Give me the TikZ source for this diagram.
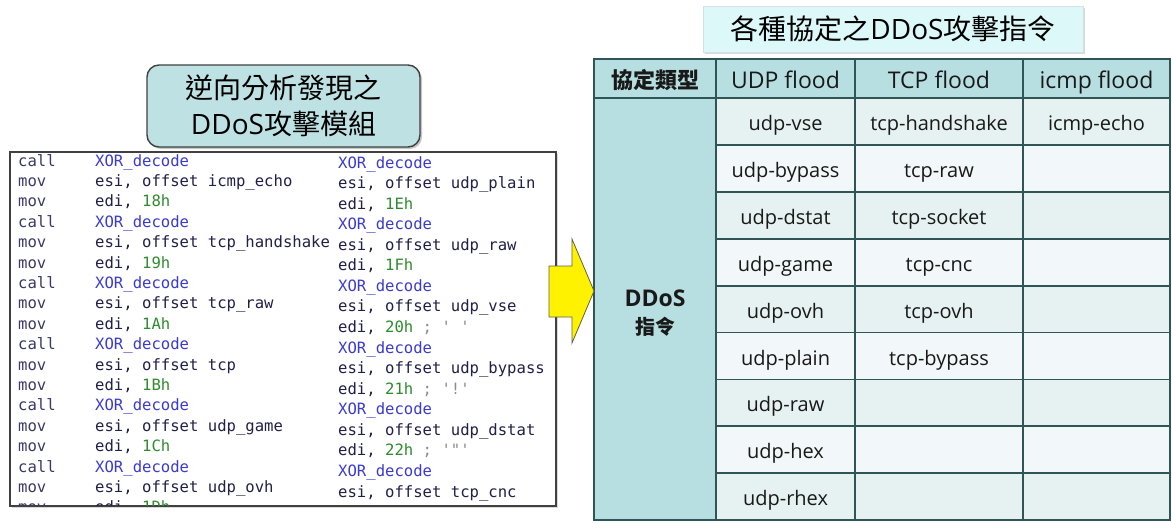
\documentclass[tikz,border=0pt]{standalone}
\usepackage{fontspec}
\setmainfont{Open Sans}
\setmonofont{DejaVu Sans Mono}
\newfontfamily\cjk{Noto Sans CJK TC}
\usetikzlibrary{shadows}
\definecolor{mnem}{HTML}{3A3A66}
\definecolor{fnc}{HTML}{3B3BD0}
\definecolor{opc}{HTML}{202048}
\definecolor{numc}{HTML}{2E8B2E}
\definecolor{cmtc}{HTML}{8C8C8C}
\definecolor{teal}{HTML}{B7DEE0}
\definecolor{rowa}{HTML}{E6F1F2}
\definecolor{rowb}{HTML}{F2F7F9}
\definecolor{gridc}{HTML}{2F5557}
\definecolor{ttlb}{HTML}{DDF8F9}
\newcommand\cl[2]{\makebox[77pt][l]{\textcolor{mnem}{#1}}#2}
\newcommand\fn[1]{\textcolor{fnc}{#1}}
\newcommand\op[1]{\textcolor{opc}{#1}}
\newcommand\nm[1]{\textcolor{numc}{#1}}
\newcommand\cm[1]{\textcolor{cmtc}{#1}}
\begin{document}
\begin{tikzpicture}[x=1pt,y=-1pt,
  code/.style={anchor=base west,inner sep=0pt,font=\ttfamily\fontsize{15.6}{16}\selectfont},
  codebox/.style={draw=black!75,line width=1.2pt,fill=white,minimum width=546pt,minimum height=354pt,inner sep=0pt,drop shadow={shadow xshift=1.5pt,shadow yshift=-1.5pt,opacity=0.3}},
  titleone/.style={draw=black!75,line width=1.4pt,rounded corners=12pt,fill=teal!90!white,minimum width=273pt,minimum height=82pt,align=center,inner sep=0pt,font=\cjk\fontsize{28}{36}\selectfont,drop shadow={shadow xshift=2pt,shadow yshift=-2pt,opacity=0.45}},
  titletwo/.style={draw=teal!80!black!40,line width=0.6pt,fill=ttlb,minimum width=380pt,minimum height=46pt,inner sep=0pt,font=\cjk\fontsize{28}{30}\selectfont,drop shadow={shadow xshift=1.5pt,shadow yshift=-2pt,opacity=0.3}},
  hd/.style={anchor=base,inner sep=0pt,font=\fontsize{23}{25}\selectfont,text=black!90},
  cell/.style={anchor=base,inner sep=0pt,font=\fontsize{20}{22}\selectfont,text=black!90},
  grid/.style={draw=gridc,line width=1.8pt}
]
\useasboundingbox (0,0) rectangle (1172,522);

% ---------- code box ----------
\node[codebox] (codebox) at (283,329) {};
\begin{scope}
\clip (11,153) rectangle (555,505);
\node[code] (L1)  at (18,166)   {\cl{call}{\fn{XOR\_decode}}};
\node[code] (L2)  at (18,186.4) {\cl{mov}{\op{esi, offset icmp\_echo}}};
\node[code] (L3)  at (18,206.8) {\cl{mov}{\op{edi, }\nm{18h}}};
\node[code] (L4)  at (18,227.2) {\cl{call}{\fn{XOR\_decode}}};
\node[code] (L5)  at (18,247.6) {\cl{mov}{\op{esi, offset tcp\_handshake}}};
\node[code] (L6)  at (18,268)   {\cl{mov}{\op{edi, }\nm{19h}}};
\node[code] (L7)  at (18,288.4) {\cl{call}{\fn{XOR\_decode}}};
\node[code] (L8)  at (18,308.8) {\cl{mov}{\op{esi, offset tcp\_raw}}};
\node[code] (L9)  at (18,329.2) {\cl{mov}{\op{edi, }\nm{1Ah}}};
\node[code] (L10) at (18,349.6) {\cl{call}{\fn{XOR\_decode}}};
\node[code] (L11) at (18,370)   {\cl{mov}{\op{esi, offset tcp}}};
\node[code] (L12) at (18,390.4) {\cl{mov}{\op{edi, }\nm{1Bh}}};
\node[code] (L13) at (18,410.8) {\cl{call}{\fn{XOR\_decode}}};
\node[code] (L14) at (18,431.2) {\cl{mov}{\op{esi, offset udp\_game}}};
\node[code] (L15) at (18,451.6) {\cl{mov}{\op{edi, }\nm{1Ch}}};
\node[code] (L16) at (18,472)   {\cl{call}{\fn{XOR\_decode}}};
\node[code] (L17) at (18,492.4) {\cl{mov}{\op{esi, offset udp\_ovh}}};
\node[code] (L18) at (18,512.8) {\cl{mov}{\op{edi, }\nm{1Dh}}};
\fill[white] (336,153) rectangle (555,505);
\node[code] (R1)  at (338,168)   {\fn{XOR\_decode}};
\node[code] (R2)  at (338,188.6) {\op{esi, offset udp\_plain}};
\node[code] (R3)  at (338,209.1) {\op{edi, }\nm{1Eh}};
\node[code] (R4)  at (338,229.7) {\fn{XOR\_decode}};
\node[code] (R5)  at (338,250.2) {\op{esi, offset udp\_raw}};
\node[code] (R6)  at (338,270.8) {\op{edi, }\nm{1Fh}};
\node[code] (R7)  at (338,291.4) {\fn{XOR\_decode}};
\node[code] (R8)  at (338,311.9) {\op{esi, offset udp\_vse}};
\node[code] (R9)  at (338,332.5) {\op{edi, }\nm{20h}\ \cm{; ' '}};
\node[code] (R10) at (338,353)   {\fn{XOR\_decode}};
\node[code] (R11) at (338,373.6) {\op{esi, offset udp\_bypass}};
\node[code] (R12) at (338,394.2) {\op{edi, }\nm{21h}\ \cm{; '!'}};
\node[code] (R13) at (338,414.7) {\fn{XOR\_decode}};
\node[code] (R14) at (338,435.3) {\op{esi, offset udp\_dstat}};
\node[code] (R15) at (338,455.8) {\op{edi, }\nm{22h}\ \cm{; '"'}};
\node[code] (R16) at (338,476.4) {\fn{XOR\_decode}};
\node[code] (R17) at (338,497)   {\op{esi, offset tcp\_cnc}};
\end{scope}

% ---------- title boxes ----------
\node[titleone] (t1) at (283.5,106) {逆向分析發現之\\{\fontspec{Open Sans}DDoS}攻擊模組};
\node[titletwo] (t2) at (893,29) {各種協定之{\fontspec{Open Sans}DDoS}攻擊指令};

% ---------- table ----------
\fill[teal] (594,59) rectangle (1170,98);
\fill[teal] (594,98) rectangle (716,520);
\foreach \k in {1,3,5,7,9} \fill[rowa] (716,{98+46.9*(\k-1)}) rectangle (1170,{98+46.9*\k});
\foreach \k in {2,4,6,8} \fill[rowb] (716,{98+46.9*(\k-1)}) rectangle (1170,{98+46.9*\k});
\foreach \k in {1,...,8} \draw[grid] (716,{98+46.9*\k}) -- (1170,{98+46.9*\k});
\draw[grid] (594,98) -- (1170,98);
\draw[grid] (716,59) -- (716,520);
\draw[grid] (855,59) -- (855,520);
\draw[grid] (1023,59) -- (1023,520);
\draw[grid] (594,59) rectangle (1170,520);

\node[hd,font=\cjk\bfseries\fontsize{22}{24}\selectfont] (h0) at (655,88) {協定類型};
\node[hd] (h1) at (785.5,88) {UDP flood};
\node[hd] (h2) at (939,88) {TCP flood};
\node[hd] (h3) at (1096.5,88) {icmp flood};

\node[anchor=base,inner sep=0pt,font=\bfseries\fontsize{23}{25}\selectfont,text=black!90] (dd) at (655,306) {DDoS};
\node[anchor=base,inner sep=0pt,font=\cjk\bfseries\fontsize{20}{22}\selectfont,text=black!90] (zl) at (655,334) {指令};

\node[cell] (u1) at (785.5,130.5) {udp-vse};
\node[cell] (u2) at (785.5,177.4) {udp-bypass};
\node[cell] (u3) at (785.5,224.3) {udp-dstat};
\node[cell] (u4) at (785.5,271.2) {udp-game};
\node[cell] (u5) at (785.5,318.1) {udp-ovh};
\node[cell] (u6) at (785.5,365) {udp-plain};
\node[cell] (u7) at (785.5,411.9) {udp-raw};
\node[cell] (u8) at (785.5,458.8) {udp-hex};
\node[cell] (u9) at (785.5,505.7) {udp-rhex};
\node[cell] (c1) at (939,130.5) {tcp-handshake};
\node[cell] (c2) at (939,177.4) {tcp-raw};
\node[cell] (c3) at (939,224.3) {tcp-socket};
\node[cell] (c4) at (939,271.2) {tcp-cnc};
\node[cell] (c5) at (939,318.1) {tcp-ovh};
\node[cell] (c6) at (939,365) {tcp-bypass};
\node[cell] (i1) at (1096.5,130.5) {icmp-echo};

% ---------- arrow ----------
\draw[fill=yellow,draw=black!70!yellow,line width=0.8pt,line join=miter]
  (549,266) -- (572,266) -- (572,239) -- (594,291) -- (572,343) -- (572,317) -- (549,317) -- cycle;
\end{tikzpicture}
\end{document}
